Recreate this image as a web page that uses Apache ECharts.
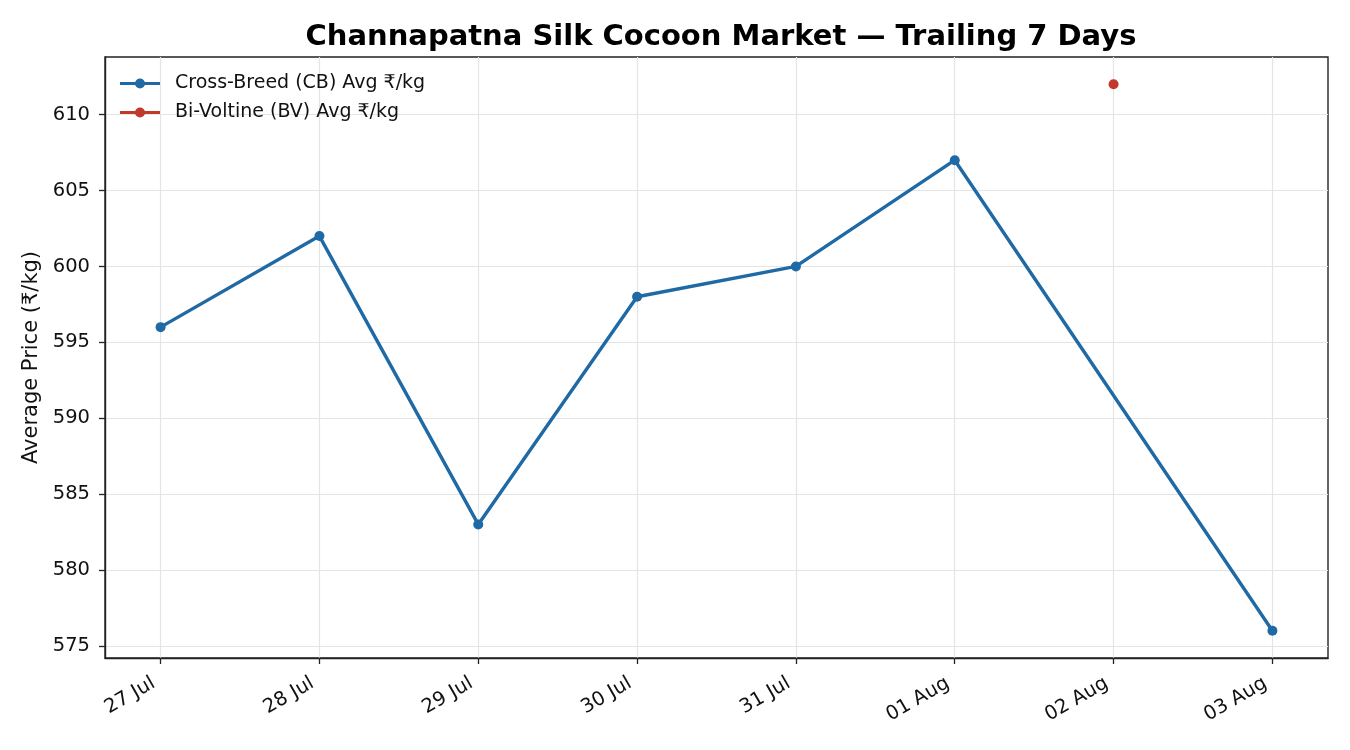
<!DOCTYPE html>
<html>
<head>
<meta charset="utf-8">
<script src="https://cdn.jsdelivr.net/npm/echarts@6/dist/echarts.min.js"></script>
<style>
html,body{margin:0;padding:0;background:#fff;}
#chart{width:1350px;height:750px;}
</style>
</head>
<body>
<div id="chart"></div>
<script>
const xLabels = ['27 Jul','28 Jul','29 Jul','30 Jul','31 Jul','01 Aug','02 Aug','03 Aug'];
const cbDays = ['27 Jul','28 Jul','29 Jul','30 Jul','31 Jul','01 Aug','03 Aug'];
const cbValues = [596, 602, 583, 598, 600, 607, 576];
const bvDays = ['02 Aug'];
const bvValues = [612];
const yTicks = [575, 580, 585, 590, 595, 600, 605, 610];

const FONT = 'DejaVu Sans';
const TXT = '#111';
const toPairs = (days, vals) => days.map((d, i) => [xLabels.indexOf(d), vals[i]]);
const xTickVals = xLabels.map((_, i) => i);
const legendIcon = 'path://M0,3.6H40V6.4H0Z M15,5A5,5 0 1,1 25,5A5,5 0 1,1 15,5Z';

const chart = echarts.init(document.getElementById('chart'), null, {renderer: 'canvas'});
chart.setOption({
  animation: false,
  textStyle: {fontFamily: FONT},
  title: {
    text: 'Channapatna Silk Cocoon Market — Trailing 7 Days',
    left: 716, top: 18, textAlign: 'center',
    textStyle: {fontFamily: FONT, fontSize: 29, fontWeight: 'bold', color: '#000'}
  },
  legend: {
    orient: 'vertical', left: 115, top: 69,
    itemWidth: 40, itemHeight: 10, itemGap: 10,
    icon: legendIcon,
    textStyle: {fontFamily: FONT, fontSize: 19, color: TXT, padding: [0, 0, 0, 10]},
    data: ['Cross-Breed (CB) Avg ₹/kg', 'Bi-Voltine (BV) Avg ₹/kg']
  },
  grid: {
    left: 105, right: 22, top: 57, bottom: 92,
    show: true, borderColor: '#222', borderWidth: 1.4, backgroundColor: 'transparent'
  },
  xAxis: {
    type: 'value', min: -0.35, max: 7.35,
    axisLine: {show: true, onZero: false, lineStyle: {color: '#222', width: 1.4}},
    axisTick: {show: true, length: 6, lineStyle: {color: '#222', width: 1.3}, customValues: xTickVals},
    axisLabel: {
      customValues: xTickVals, rotate: 30, margin: 20,
      padding: [0, 8, 0, 0],
      fontFamily: FONT, fontSize: 19.5, color: TXT,
      formatter: v => xLabels[Math.round(v)] || ''
    },
    splitLine: {show: true, lineStyle: {color: '#e4e4e4', width: 1.2}}
  },
  yAxis: {
    type: 'value', min: 574.2, max: 613.8,
    name: 'Average Price (₹/kg)', nameLocation: 'middle', nameGap: 62, nameRotate: 90,
    nameTextStyle: {fontFamily: FONT, fontSize: 21, color: TXT},
    axisLine: {show: true, onZero: false, lineStyle: {color: '#222', width: 1.4}},
    axisTick: {show: true, length: 6, lineStyle: {color: '#222', width: 1.3}, customValues: yTicks},
    axisLabel: {customValues: yTicks, margin: 15, fontFamily: FONT, fontSize: 19.5, color: TXT},
    splitLine: {show: true, lineStyle: {color: '#e4e4e4', width: 1.2}}
  },
  series: [
    {
      name: 'Cross-Breed (CB) Avg ₹/kg', type: 'line',
      data: toPairs(cbDays, cbValues),
      symbol: 'circle', symbolSize: 10,
      lineStyle: {color: '#1f6aa5', width: 3.4},
      itemStyle: {color: '#1f6aa5'}
    },
    {
      name: 'Bi-Voltine (BV) Avg ₹/kg', type: 'line',
      data: toPairs(bvDays, bvValues),
      symbol: 'circle', symbolSize: 10,
      showAllSymbol: true,
      lineStyle: {color: '#c0392b', width: 3.4},
      itemStyle: {color: '#c0392b'}
    }
  ]
});
</script>
</body>
</html>
